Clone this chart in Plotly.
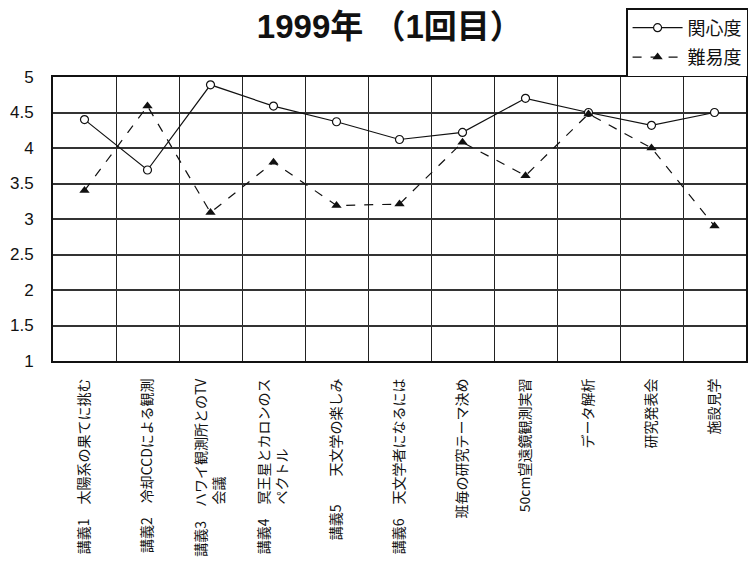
import plotly.graph_objects as go

categories = [
    "講義1　太陽系の果てに挑む",
    "講義2　冷却CCDによる観測",
    "講義3　ハワイ観測所とのTV<br>会議　　　　　　　",
    "講義4　冥王星とカロンのス<br>ペクトル　　　　　",
    "講義5　　天文学の楽しみ",
    "講義6　天文学者になるには",
    "班毎の研究テーマ決め",
    "50cm望遠鏡観測実習",
    "データ解析",
    "研究発表会",
    "施設見学",
]
interest = [4.40, 3.69, 4.89, 4.59, 4.37, 4.12, 4.22, 4.70, 4.50, 4.32, 4.50]
difficulty = [3.40, 4.59, 3.09, 3.80, 3.19, 3.21, 4.08, 3.61, 4.48, 4.00, 2.90]
y_ticks = [1, 1.5, 2, 2.5, 3, 3.5, 4, 4.5, 5]
y_tick_text = ["1", "1.5", "2", "2.5", "3", "3.5", "4", "4.5", "5"]

FONT = "Liberation Sans, Noto Sans CJK JP, sans-serif"

fig = go.Figure()
fig.add_trace(go.Scatter(
    x=categories, y=interest, name="関心度", mode="lines+markers",
    legendgroup="a",
    line=dict(color="#111111", width=1.2),
    marker=dict(symbol="circle", size=8, color="white",
                line=dict(width=1.2, color="#111111")),
))
fig.add_trace(go.Scatter(
    x=categories, y=difficulty, name="難易度", mode="lines+markers",
    legendgroup="b",
    line=dict(color="#111111", width=1.2, dash="dash"),
    marker=dict(symbol="triangle-up", size=9, color="#111111"),
))

fig.update_layout(
    width=754, height=587,
    margin=dict(l=53, r=6, t=77, b=226),
    paper_bgcolor="white", plot_bgcolor="white",
    font=dict(family=FONT, color="#111111"),
    title=dict(text="<b>1999年 （1回目）</b>", x=0.517, xanchor="center",
               y=0.955, yanchor="middle",
               font=dict(size=33, color="#111111",
                         family="Liberation Sans, Noto Sans CJK JP")),
    showlegend=True,
    legend=dict(x=1.003, xanchor="right", y=1.0, yanchor="bottom",
                bordercolor="#111111", borderwidth=1.5, bgcolor="white",
                font=dict(size=18, color="#111111", family="Noto Sans CJK JP"),
                itemwidth=50, tracegroupgap=3),
)
fig.update_xaxes(
    type="category", range=[-0.5, 10.5], tickson="boundaries", showgrid=True,
    gridcolor="#222222", gridwidth=1.2,
    showline=True, linecolor="#111111", linewidth=2, mirror=True,
    tickangle=-90,
    tickfont=dict(size=14, family="Noto Sans CJK JP", color="#111111"),
    ticks="", ticklabelstandoff=10,
)
fig.update_yaxes(
    range=[1, 5], tickvals=y_ticks, ticktext=y_tick_text,
    showgrid=True, gridcolor="#333333", gridwidth=1.5,
    showline=True, linecolor="#111111", linewidth=2, mirror=True,
    tickfont=dict(size=17, color="#111111"), ticks="", ticklabelstandoff=14,
    zeroline=False,
)

fig.write_html("out.html")
